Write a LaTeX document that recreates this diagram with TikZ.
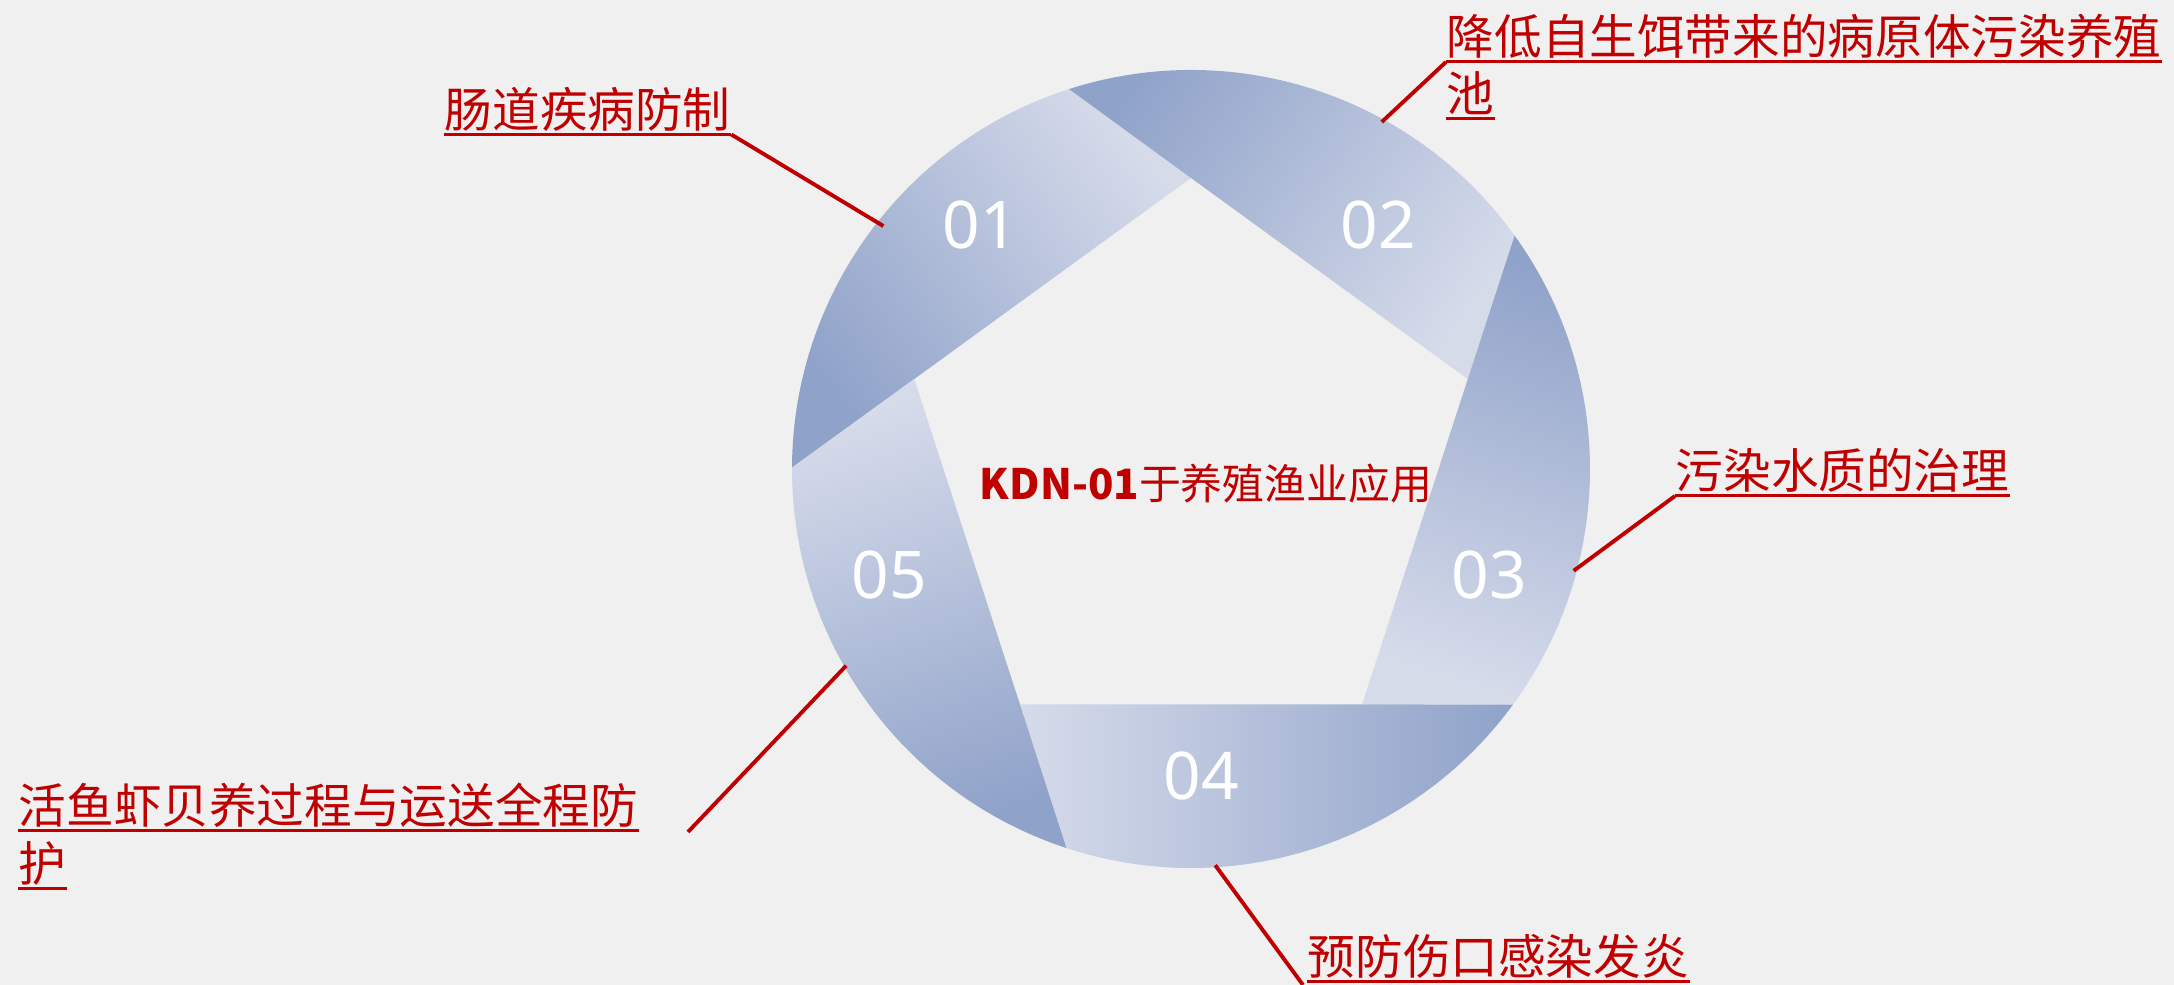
\documentclass[tikz,border=0pt]{standalone}
\usepackage{fontspec}
\newfontfamily\cjk{Noto Sans CJK SC}
\newfontfamily\numfont{Noto Sans}
\definecolor{bg}{HTML}{F0F0F0}
\definecolor{lab}{HTML}{C00000}
\definecolor{bandlight}{RGB}{214,219,234}
\definecolor{banddark}{RGB}{143,162,201}
\begin{document}
\begin{tikzpicture}[x=0.01cm,y=0.01cm,
  lbl/.style={font=\cjk\fontsize{13.55pt}{16pt}\selectfont, text=lab, inner sep=0pt, anchor=base west},
  ul/.style={draw=lab, line width=0.85pt},
  conn/.style={draw=lab, line width=1.1pt},
  num/.style={font=\numfont\fontsize{18.7pt}{22pt}\selectfont, text=white, inner sep=0pt},
  title/.style={font=\cjk\fontsize{11.9pt}{14pt}\selectfont, text=lab, inner sep=0pt}]
\useasboundingbox (0,0) rectangle (2174,985);
\fill[bg] (0,0) rectangle (2174,985);
\begin{scope}[shift={(1191,516)}]
  \foreach \k in {0,...,4}{
    \pgfmathsetmacro\va{90-72*\k}
    \pgfmathsetmacro\pa{107.8-72*\k}
    \pgfmathsetmacro\pb{179.8-72*\k}
    \pgfmathsetmacro\vb{162-72*\k}
    \pgfmathsetmacro\sa{126-72*\k}
    \shade[top color=banddark, bottom color=bandlight, shading angle=\sa]
      (\va:291) -- (\pa:399) arc[start angle=\pa, end angle=\pb, radius=399] -- (\vb:291) -- cycle;
  }
  \coordinate (e1) at (141.7:392);
  \coordinate (e2) at (61.2:396);
  \coordinate (e3) at (-14.9:396);
  \coordinate (e4) at (-86.5:397);
  \coordinate (e5) at (209.7:397);
\end{scope}
% numbers
\node[num] (n1) at (980,760) {01};
\node[num] (n2) at (1378,760) {02};
\node[num] (n3) at (1489,410) {03};
\node[num] (n4) at (1201,209) {04};
\node[num] (n5) at (889,410) {05};
% centre title
\node[title] (t) at (1206,501) {{\bfseries KDN-01}于养殖渔业应用};
% labels
\node[lbl] (l1) at (444,857.5) {肠道疾病防制};
\node[lbl] (l2a) at (1446,930) {降低自生饵带来的病原体污染养殖};
\node[lbl] (l2b) at (1446,873) {池};
\node[lbl] (l3) at (1675,496) {污染水质的治理};
\node[lbl] (l4) at (1307,10.4) {预防伤口感染发炎};
\node[lbl] (l5a) at (18,161.5) {活鱼虾贝养过程与运送全程防};
\node[lbl] (l5b) at (18,103.3) {护};
\foreach \n in {l1,l2a,l2b,l3,l4,l5a,l5b}{
  \draw[ul] ([yshift=-0.07cm]\n.base west) -- ([yshift=-0.07cm]\n.base east);
}
\coordinate (b4) at (1303,0);
\coordinate (f5) at (688,153);
\draw[conn] ([yshift=-0.07cm]l1.base east) -- (e1);
\draw[conn] ([yshift=-0.07cm]l2a.base west) -- (e2);
\draw[conn] ([yshift=-0.07cm]l3.base west) -- (e3);
\draw[conn] (e4) -- (b4);
\draw[conn] (f5) -- (e5);
\end{tikzpicture}
\end{document}
